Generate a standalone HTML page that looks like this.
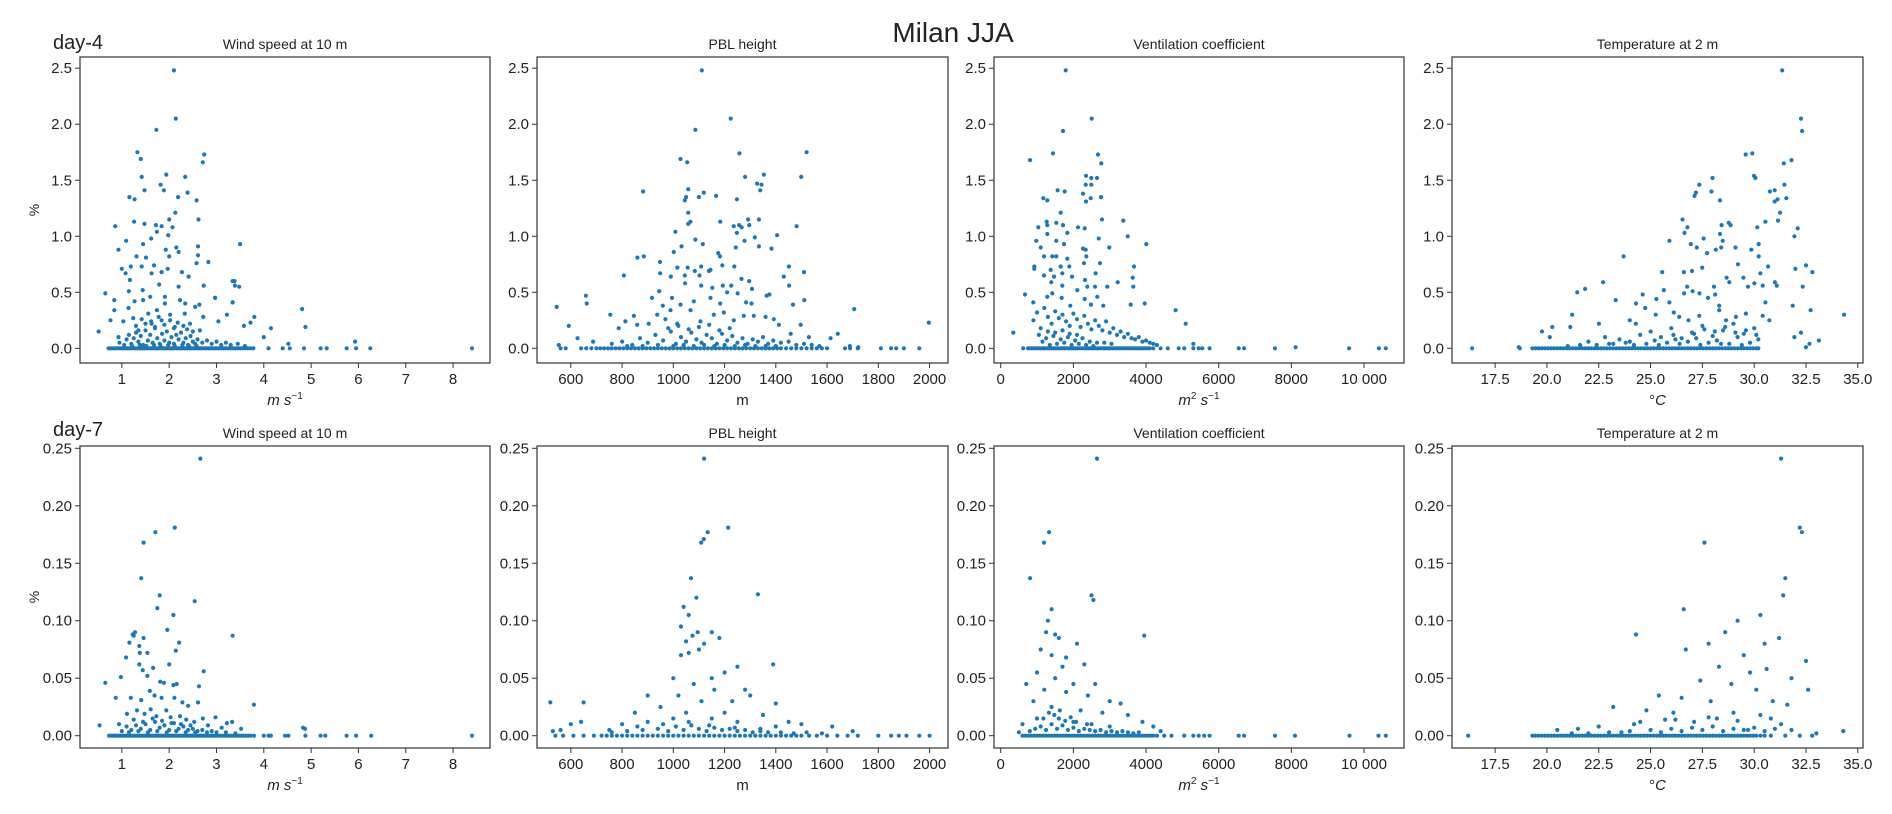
<!DOCTYPE html>
<html><head><meta charset="utf-8"><style>
html,body{margin:0;padding:0;background:#fff;}
svg text{font-family:"Liberation Sans","DejaVu Sans",sans-serif;fill:#222;}
</style></head><body>
<svg id="fig" width="1892" height="809" viewBox="0 0 1892 809" xmlns="http://www.w3.org/2000/svg">
<rect width="1892" height="809" fill="#fff"/>
<text x="953" y="42" font-size="28" text-anchor="middle">Milan JJA</text>
<text x="53" y="49" font-size="20">day-4</text>
<text x="53" y="436" font-size="20">day-7</text>
<text x="0" y="0" font-size="14" text-anchor="middle" transform="translate(39,210) rotate(-90)">%</text>
<text x="0" y="0" font-size="14" text-anchor="middle" transform="translate(39,597) rotate(-90)">%</text>
<g id="plots"></g>
</svg>
<script>
// ---------- day-4 data ----------
const windX4=[2.10,2.14,1.73,1.33,1.40,2.74,2.71,1.42,1.94,2.34,1.82,1.89,1.48,2.19,2.39,2.58,1.16,1.27,2.13,2.0,2.62,1.26,1.48,1.72,1.84,2.07,0.86,1.09,0.93,1.45,1.62,1.74,1.98,2.15,2.61,3.5,1.31,1.51,1.93,2.2,2.0,2.61,1.0,1.19,1.42,1.68,1.84,1.97,2.27,2.58,2.83,1.08,1.17,1.63,2.41,3.34,3.39,0.65,1.15,1.44,1.79,2.2,2.73,0.84,1.27,1.6,1.91,2.34,2.64,2.97,3.34,4.81,0.51,0.76,0.84,4.88,0.93,1.03,1.14,1.24,1.35,1.45,1.56,1.63,1.74,1.84,1.91,2.02,2.12,2.23,2.33,2.44,2.55,2.65,2.72,2.97,3.04,3.22,3.34,3.38,3.48,3.58,3.80,3.72,4.0,4.15,4.52,5.93];
const windY4=[2.48,2.05,1.95,1.75,1.69,1.73,1.66,1.53,1.55,1.53,1.46,1.41,1.41,1.35,1.39,1.32,1.35,1.33,1.21,1.15,1.15,1.13,1.11,1.10,1.09,1.08,1.09,0.96,0.88,0.93,0.98,1.04,1.01,0.90,0.91,0.93,0.82,0.81,0.88,0.86,0.82,0.83,0.71,0.73,0.73,0.74,0.68,0.71,0.68,0.76,0.77,0.67,0.61,0.67,0.64,0.60,0.56,0.49,0.51,0.52,0.57,0.55,0.56,0.43,0.42,0.46,0.46,0.40,0.39,0.45,0.41,0.35,0.15,0.25,0.34,0.19,0.10,0.24,0.36,0.27,0.16,0.43,0.31,0.22,0.34,0.25,0.40,0.30,0.19,0.43,0.31,0.22,0.37,0.16,0.28,0.45,0.24,0.30,0.41,0.60,0.55,0.20,0.28,0.23,0.10,0.18,0.04,0.06,0.02];
const windLowX4=[0.95,1.05,1.1,1.15,1.2,1.25,1.3,1.35,1.4,1.45,1.5,1.55,1.6,1.65,1.7,1.75,1.8,1.85,1.9,1.95,2.0,2.05,2.1,2.15,2.2,2.25,2.3,2.35,2.4,2.45,2.5,2.55,2.6,2.7,2.8,2.9,3.0,3.1,3.2,3.3,3.45,3.6,1.22,1.38,1.52,1.68,1.82,1.98,2.12,2.28,2.42,2.58,1.3,1.5,1.7,1.9,2.1,2.3,2.5,1.42,1.62,1.78,2.02,2.18,2.38];
const windLowY4=[0.05,0.03,0.08,0.12,0.04,0.09,0.14,0.06,0.11,0.03,0.16,0.07,0.12,0.05,0.18,0.09,0.04,0.13,0.07,0.15,0.05,0.10,0.04,0.12,0.08,0.14,0.05,0.09,0.03,0.11,0.06,0.04,0.08,0.05,0.07,0.04,0.06,0.03,0.05,0.03,0.04,0.02,0.02,0.03,0.02,0.03,0.02,0.03,0.02,0.03,0.02,0.02,0.2,0.22,0.19,0.21,0.18,0.2,0.15,0.26,0.24,0.28,0.25,0.23,0.17];
const windZero4=[0.72,0.76,0.8,0.84,0.88,0.92,0.96,1.0,1.04,1.08,1.12,1.16,1.2,1.24,1.28,1.32,1.36,1.4,1.44,1.48,1.52,1.56,1.6,1.64,1.68,1.72,1.76,1.8,1.84,1.88,1.92,1.96,2.0,2.04,2.08,2.12,2.16,2.2,2.24,2.28,2.32,2.36,2.4,2.44,2.48,2.52,2.56,2.6,2.64,2.68,2.72,2.76,2.8,2.84,2.88,2.92,2.96,3.0,3.05,3.1,3.15,3.2,3.25,3.3,3.35,3.4,3.45,3.5,3.55,3.6,3.66,3.72,3.78,4.1,4.4,4.55,4.85,5.2,5.33,5.75,5.95,6.25,8.4];

const pblX4=[1111,1224,1086,1028,1054,1258,1520,1280,1353,1327,1344,1339,1499,882,1058,1050,1045,1100,1119,1167,1248,1058,1058,1067,1183,1292,1334,1236,1257,1267,1248,1008,1086,1115,1278,1318,1296,1405,1481,1032,1002,1244,1334,1383,860,885,1175,1182,807,948,1016,1056,1084,1109,1145,1191,1238,1451,1510,949,990,1045,1102,1139,1431,1046,1109,1152,1193,1226,1266,1296,1307,1452,917,945,959,995,1028,1080,1145,1183,1210,1251,1284,1305,1364,1375,1467,1511,545,659,662,846,754,813,592,626,687,787,859,904,937,969,989,1015,1067,1106,1158,1197,1236,1275,1314,1360,1392,1412,1458,1497,1529,1614,1642,1706,1997,1689,1722,553];
const pblY4=[2.48,2.05,1.95,1.69,1.66,1.74,1.75,1.53,1.55,1.47,1.46,1.41,1.53,1.40,1.42,1.35,1.32,1.35,1.39,1.36,1.33,1.21,1.11,1.13,1.13,1.15,1.15,1.09,1.10,1.08,1.03,1.04,0.97,0.93,0.96,0.99,1.10,1.01,1.09,0.91,0.86,0.90,0.91,0.89,0.81,0.82,0.85,0.82,0.65,0.77,0.72,0.72,0.69,0.73,0.70,0.74,0.73,0.73,0.68,0.67,0.64,0.65,0.65,0.69,0.64,0.58,0.56,0.54,0.56,0.56,0.62,0.60,0.53,0.56,0.45,0.51,0.38,0.45,0.39,0.42,0.45,0.40,0.50,0.49,0.41,0.40,0.47,0.48,0.39,0.43,0.37,0.47,0.40,0.29,0.30,0.24,0.20,0.09,0.06,0.18,0.21,0.22,0.30,0.26,0.34,0.22,0.34,0.24,0.30,0.32,0.25,0.29,0.29,0.28,0.26,0.21,0.13,0.21,0.10,0.09,0.13,0.35,0.23,0.02,0.01,0.03];
const pblLowX4=[760,800,840,870,900,930,960,990,1010,1030,1050,1070,1090,1110,1130,1150,1170,1190,1210,1230,1250,1270,1290,1310,1330,1350,1370,1390,1420,1450,1480,1510,1540,1570,820,880,940,1000,1040,1080,1120,1160,1200,1240,1280,1320,1360,1400,980,1020,1060,1100,1140,1180,1220];
const pblLowY4=[0.04,0.06,0.03,0.09,0.05,0.12,0.07,0.15,0.04,0.10,0.06,0.14,0.08,0.05,0.12,0.09,0.04,0.13,0.07,0.11,0.05,0.09,0.04,0.08,0.06,0.10,0.04,0.07,0.05,0.06,0.03,0.04,0.03,0.02,0.02,0.02,0.03,0.02,0.03,0.02,0.03,0.02,0.03,0.02,0.03,0.02,0.02,0.02,0.18,0.2,0.17,0.19,0.21,0.16,0.18];
const pblZero4=[560,580,640,660,680,700,715,730,745,760,775,790,805,820,835,850,865,880,895,910,925,940,955,970,985,1000,1015,1030,1045,1060,1075,1090,1105,1120,1135,1150,1165,1180,1195,1210,1225,1240,1255,1270,1285,1300,1315,1330,1345,1360,1375,1390,1405,1420,1440,1460,1480,1500,1520,1540,1560,1580,1600,1670,1690,1720,1810,1850,1870,1900,1960];

const ventX4=[1788,2503,1714,806,1439,2678,2769,2347,2494,2650,2338,2494,1567,1760,1173,1283,2265,2476,2347,2760,1650,1265,1283,1531,1714,1035,1834,2127,2311,2788,3375,980,1283,1531,1742,2265,2338,2696,2990,3494,4008,1100,1191,1421,1531,1834,2357,925,925,1375,1650,1889,2292,2613,2733,3669,1191,1467,1696,1962,1393,1696,2320,2384,2595,2935,3219,3632,3650,668,898,1283,1421,1678,1916,2109,2311,2485,2659,2824,3577,3962,4815,5091,347,5302,8118];
const ventY4=[2.48,2.05,1.94,1.68,1.74,1.73,1.65,1.54,1.52,1.52,1.46,1.46,1.41,1.40,1.34,1.32,1.38,1.34,1.31,1.35,1.21,1.13,1.10,1.12,1.10,1.08,1.03,1.08,1.07,1.15,1.14,0.96,1.02,0.96,0.93,0.89,0.88,0.98,0.90,1.00,0.93,0.90,0.82,0.82,0.82,0.80,0.82,0.73,0.71,0.70,0.73,0.73,0.76,0.67,0.76,0.73,0.65,0.64,0.67,0.64,0.59,0.56,0.61,0.55,0.55,0.55,0.59,0.63,0.55,0.48,0.41,0.46,0.49,0.45,0.38,0.52,0.44,0.39,0.46,0.38,0.39,0.40,0.34,0.22,0.14,0.04,0.01];
const ventLowX4=[900,1000,1100,1200,1300,1400,1500,1600,1700,1800,1900,2000,2100,2200,2300,2400,2500,2600,2700,2800,2900,3000,3100,3200,3300,3400,3500,3600,3700,3800,3900,4000,4100,4200,4300,1050,1250,1450,1650,1850,2050,2250,2450,2650,2850,3050,1150,1350,1550,1750,1950,2150,2350,2550,1300,1500,1700,1900,2100];
const ventLowY4=[0.25,0.32,0.18,0.36,0.28,0.22,0.33,0.27,0.30,0.24,0.20,0.31,0.26,0.19,0.29,0.22,0.17,0.25,0.20,0.16,0.24,0.14,0.18,0.12,0.15,0.10,0.13,0.09,0.08,0.10,0.06,0.07,0.05,0.04,0.03,0.12,0.09,0.11,0.08,0.10,0.07,0.09,0.06,0.05,0.05,0.04,0.06,0.03,0.04,0.05,0.03,0.04,0.03,0.02,0.15,0.14,0.16,0.13,0.12];
const ventZero4=[620,750,800,860,920,980,1040,1100,1160,1220,1280,1340,1400,1460,1520,1580,1640,1700,1760,1820,1880,1940,2000,2060,2120,2180,2240,2300,2360,2420,2480,2540,2600,2660,2720,2780,2840,2900,2960,3020,3080,3140,3200,3260,3320,3380,3440,3500,3560,3620,3680,3740,3800,3860,3920,3980,4040,4100,4200,4400,4600,4900,5050,5300,5450,5550,5750,6550,6700,7550,9590,10410,10600];

const tempX4=[31.35,32.26,32.31,29.59,29.91,31.43,31.8,29.99,30.06,27.99,27.35,27.19,27.12,27.94,28.35,30.76,30.99,30.99,31.13,31.46,31.55,31.25,31.15,30.54,26.54,26.64,26.78,28.43,28.77,28.86,28.35,27.56,26.94,27.23,25.91,23.7,27.73,28.15,28.48,28.41,29.1,29.86,30.22,30.15,30.22,31.94,32.1,31.99,32.5,32.81,32.34,32.72,34.34,22.71,21.46,21.84,21.22,19.76,20.26,20.14,21.13,25.56,25.64,26.61,27.0,27.49,26.62,26.77,27.03,27.36,27.77,28.06,28.12,28.31,28.67,28.8,29.22,29.48,29.7,30.01,30.3,30.41,30.67,31.0,31.09,30.54,23.32,24.3,24.62,25.28,25.91,26.12,24.74,24.0,24.29,25.25,26.38,26.83,27.35,28.31,28.64,29.12,29.6,30.41,30.73,31.86,31.94,32.26,32.67,33.12,32.5,18.64,22.51];
const tempY4=[2.48,2.05,1.94,1.73,1.74,1.65,1.68,1.54,1.52,1.52,1.46,1.39,1.36,1.40,1.32,1.40,1.41,1.31,1.33,1.46,1.34,1.21,1.14,1.13,1.15,1.03,1.08,1.10,1.12,1.10,1.02,0.98,0.93,0.90,0.96,0.82,0.85,0.88,0.96,0.90,0.90,0.88,0.93,1.08,0.82,1.00,1.07,0.71,0.74,0.68,0.55,0.34,0.30,0.59,0.50,0.53,0.30,0.15,0.19,0.10,0.19,0.68,0.52,0.68,0.69,0.72,0.49,0.55,0.51,0.49,0.45,0.55,0.48,0.38,0.63,0.59,0.75,0.63,0.55,0.58,0.67,0.56,0.73,0.59,0.56,0.41,0.43,0.40,0.48,0.44,0.41,0.32,0.36,0.25,0.22,0.30,0.28,0.25,0.29,0.34,0.25,0.28,0.31,0.29,0.25,0.38,0.10,0.14,0.04,0.07,0.01,0.01,0.22];
const tempLowX4=[22.0,22.8,23.5,24.5,25.0,25.5,26.0,26.5,27.0,27.5,28.0,28.5,29.0,29.5,30.0,23.0,24.0,25.2,26.2,27.2,28.2,29.2,30.2,25.8,26.8,27.8,28.8,21.0,21.6,22.4,23.2,23.8,24.2,24.8,25.4,26.4,27.4,28.4,29.4,29.8,26.1,27.1,28.1,29.1,27.6,28.6,29.6,30.1];
const tempLowY4=[0.06,0.10,0.08,0.12,0.15,0.10,0.18,0.09,0.14,0.20,0.11,0.16,0.22,0.13,0.18,0.04,0.06,0.07,0.08,0.09,0.07,0.10,0.08,0.05,0.06,0.05,0.04,0.02,0.03,0.03,0.04,0.05,0.03,0.04,0.03,0.04,0.03,0.04,0.03,0.05,0.12,0.13,0.15,0.14,0.17,0.19,0.16,0.12];
const tempZero4=[16.39,18.69,19.3,19.45,19.6,19.75,19.9,20.05,20.2,20.35,20.5,20.65,20.8,20.95,21.1,21.25,21.4,21.55,21.7,21.85,22.0,22.15,22.3,22.45,22.6,22.75,22.9,23.05,23.2,23.35,23.5,23.65,23.8,23.95,24.1,24.25,24.4,24.55,24.7,24.85,25.0,25.15,25.3,25.45,25.6,25.75,25.9,26.05,26.2,26.35,26.5,26.65,26.8,26.95,27.1,27.25,27.4,27.55,27.7,27.85,28.0,28.15,28.3,28.45,28.6,28.75,28.9,29.05,29.2,29.35,29.5,29.65,29.8,29.95,30.1,30.2];

// ---------- day-7 data ----------
const windX7=[2.66,2.12,1.71,1.46,1.41,1.80,2.54,0.65,0.53,0.87,0.98,1.09,1.16,1.23,1.28,1.25,1.37,1.38,1.46,1.54,1.37,1.44,1.54,1.66,1.75,1.81,1.89,1.96,2.0,2.09,2.14,2.21,2.09,2.16,2.63,2.61,2.73,3.34,3.79,1.19,1.41,1.59,1.69,1.84,2.11,2.28,2.40,2.71,2.98,3.22,3.33,3.52,4.83,4.87,0.94,1.11,1.32,1.48,1.61,1.73,1.94,2.03,2.23,2.36,2.53,2.82,3.11];
const windY7=[0.241,0.181,0.177,0.168,0.137,0.122,0.117,0.046,0.009,0.033,0.051,0.068,0.081,0.088,0.090,0.087,0.078,0.072,0.085,0.072,0.062,0.057,0.052,0.059,0.111,0.047,0.046,0.092,0.062,0.105,0.074,0.081,0.044,0.045,0.043,0.029,0.056,0.087,0.027,0.033,0.031,0.039,0.035,0.033,0.033,0.029,0.026,0.015,0.016,0.011,0.012,0.006,0.007,0.006,0.010,0.019,0.022,0.019,0.023,0.017,0.022,0.016,0.017,0.014,0.012,0.009,0.007];
const windLowX7=[1.0,1.1,1.2,1.3,1.4,1.5,1.6,1.7,1.8,1.9,2.0,2.1,2.2,2.3,2.4,2.5,2.6,2.7,2.8,2.9,3.0,3.2,3.4,1.15,1.35,1.55,1.75,1.95,2.15,2.35,2.55,1.25,1.45,1.65,1.85,2.05,2.25,2.45];
const windLowY7=[0.004,0.008,0.005,0.009,0.006,0.010,0.005,0.012,0.007,0.009,0.005,0.011,0.006,0.008,0.005,0.006,0.004,0.005,0.003,0.004,0.003,0.003,0.002,0.003,0.004,0.003,0.004,0.003,0.004,0.003,0.003,0.014,0.012,0.015,0.013,0.011,0.010,0.009];
const windZero7=[0.73,0.77,0.81,0.85,0.89,0.93,0.97,1.01,1.05,1.09,1.13,1.17,1.21,1.25,1.29,1.33,1.37,1.41,1.45,1.49,1.53,1.57,1.61,1.65,1.69,1.73,1.77,1.81,1.85,1.89,1.93,1.97,2.01,2.05,2.09,2.13,2.17,2.21,2.25,2.29,2.33,2.37,2.41,2.45,2.49,2.53,2.57,2.61,2.65,2.69,2.73,2.77,2.81,2.85,2.89,2.93,2.97,3.02,3.07,3.12,3.17,3.22,3.27,3.32,3.37,3.42,3.47,3.52,3.57,3.62,3.67,3.72,3.79,4.0,4.1,4.15,4.45,4.52,4.88,5.2,5.3,5.75,5.95,6.27,8.4];

const pblX7=[1120,1214,1134,1119,1109,1069,1040,1060,1090,1030,1050,1075,1095,1150,1180,1120,1030,1060,1100,1330,1390,1250,1200,1150,1000,1080,1160,1280,900,1020,1110,1230,1300,1400,520,650,640,600,530,560,850,950,1050,1200,1350,1450,1500,1620,1700,800,900,1000,1150,1250,1400,750];
const pblY7=[0.241,0.181,0.177,0.171,0.168,0.137,0.112,0.105,0.120,0.095,0.082,0.087,0.090,0.090,0.085,0.080,0.070,0.072,0.075,0.123,0.062,0.060,0.055,0.050,0.050,0.045,0.040,0.040,0.035,0.035,0.030,0.030,0.035,0.028,0.029,0.029,0.012,0.010,0.004,0.005,0.020,0.025,0.020,0.020,0.018,0.012,0.010,0.008,0.004,0.010,0.012,0.015,0.015,0.012,0.008,0.005];
const pblLowX7=[760,820,880,940,980,1010,1040,1070,1100,1130,1160,1190,1220,1250,1280,1310,1340,1370,1420,1470,1520,1580,860,960,1060,1140,1240,1340];
const pblLowY7=[0.003,0.004,0.005,0.006,0.004,0.008,0.005,0.009,0.006,0.004,0.007,0.005,0.006,0.004,0.005,0.003,0.004,0.003,0.003,0.002,0.003,0.002,0.008,0.010,0.012,0.009,0.007,0.006];
const pblZero7=[540,570,610,650,690,720,740,760,780,800,820,840,860,880,900,920,940,960,980,1000,1020,1040,1060,1080,1100,1120,1140,1160,1180,1200,1220,1240,1260,1280,1300,1320,1340,1360,1380,1400,1420,1440,1460,1480,1500,1530,1560,1600,1640,1680,1720,1800,1850,1880,1910,1960,2000];

const ventX7=[2650,1333,1190,809,2500,2550,1400,1300,1250,1500,1600,2100,1100,1400,1800,2300,1700,3950,1000,1500,2000,2600,1200,1800,2400,3000,3300,700,900,1400,2200,2800,3500,3900,4200,600,1000,1600,2000,2500,3000,500,4400];
const ventY7=[0.241,0.177,0.168,0.137,0.122,0.118,0.110,0.100,0.090,0.088,0.085,0.080,0.075,0.070,0.068,0.062,0.060,0.087,0.055,0.050,0.045,0.045,0.040,0.038,0.035,0.030,0.028,0.045,0.030,0.025,0.022,0.020,0.018,0.012,0.008,0.010,0.015,0.015,0.012,0.010,0.008,0.003,0.004];
const ventLowX7=[800,950,1100,1250,1400,1550,1700,1850,2000,2150,2300,2450,2600,2750,2900,3050,3200,3350,3500,3650,3800,1175,1475,1775,2075,2375,1325,1625,1925];
const ventLowY7=[0.004,0.006,0.008,0.005,0.010,0.006,0.009,0.005,0.007,0.004,0.006,0.005,0.004,0.005,0.003,0.004,0.003,0.004,0.003,0.002,0.003,0.015,0.018,0.013,0.012,0.010,0.020,0.022,0.016];
const ventZero7=[600,680,760,840,920,1000,1080,1160,1240,1320,1400,1480,1560,1640,1720,1800,1880,1960,2040,2120,2200,2280,2360,2440,2520,2600,2680,2760,2840,2920,3000,3080,3160,3240,3320,3400,3480,3560,3640,3720,3800,3880,3960,4040,4120,4200,4300,4500,4700,5050,5300,5450,5600,5750,6550,6700,7550,8100,9600,10400,10600];

const tempX7=[31.3,32.2,32.3,27.6,31.5,31.4,26.6,30.3,29.2,28.6,24.3,31.2,27.8,30.5,26.7,29.5,32.5,28.3,30.6,29.8,31.8,27.4,28.9,30.1,32.6,25.4,26.5,27.9,30.9,31.6,23.2,24.8,26.1,29.0,30.3,28.2,25.7,27.1,24.2,31.3,22.5,21.5,29.7,20.5,34.3,33.0];
const tempY7=[0.241,0.181,0.177,0.168,0.137,0.122,0.110,0.105,0.100,0.090,0.088,0.085,0.080,0.080,0.075,0.070,0.065,0.060,0.058,0.055,0.050,0.048,0.045,0.040,0.040,0.035,0.033,0.030,0.030,0.027,0.025,0.022,0.020,0.020,0.018,0.015,0.014,0.012,0.010,0.010,0.008,0.006,0.005,0.005,0.004,0.002];
const tempLowX7=[22.0,23.0,24.0,25.0,25.5,26.0,26.5,27.0,27.5,28.0,28.5,29.0,29.5,30.0,30.5,31.0,31.8,24.5,26.2,27.8,29.2,30.8,21.2,23.6];
const tempLowY7=[0.002,0.003,0.004,0.005,0.003,0.006,0.004,0.007,0.005,0.008,0.004,0.006,0.005,0.007,0.004,0.006,0.005,0.012,0.014,0.016,0.013,0.015,0.002,0.003];
const tempZero7=[16.2,19.3,19.45,19.6,19.75,19.9,20.05,20.2,20.35,20.5,20.65,20.8,20.95,21.1,21.25,21.4,21.55,21.7,21.85,22.0,22.15,22.3,22.45,22.6,22.75,22.9,23.05,23.2,23.35,23.5,23.65,23.8,23.95,24.1,24.25,24.4,24.55,24.7,24.85,25.0,25.15,25.3,25.45,25.6,25.75,25.9,26.05,26.2,26.35,26.5,26.65,26.8,26.95,27.1,27.25,27.4,27.55,27.7,27.85,28.0,28.15,28.3,28.45,28.6,28.75,28.9,29.05,29.2,29.35,29.5,29.65,29.8,29.95,30.1,30.3,30.5,30.8,31.5,32.2,32.8];

// ---------- tick labels ----------
const windTicks=[1,2,3,4,5,6,7,8];
const pblTicks=[600,800,1000,1200,1400,1600,1800,2000];
const ventTicks=[0,2000,4000,6000,8000,10000];
const ventTickLabels=["0","2000","4000","6000","8000","10 000"];
const tempTicks=[17.5,20,22.5,25,27.5,30,32.5,35];
const tempTickLabels=["17.5","20.0","22.5","25.0","27.5","30.0","32.5","35.0"];
const topYTicks=[0,0.5,1,1.5,2,2.5];
const topYLabels=["0.0","0.5","1.0","1.5","2.0","2.5"];
const botYTicks=[0,0.05,0.1,0.15,0.2,0.25];
const botYLabels=["0.00","0.05","0.10","0.15","0.20","0.25"];

const NS="http://www.w3.org/2000/svg";
const root=document.getElementById('plots');
function mk(tag,attrs,parent){const e=document.createElementNS(NS,tag);for(const k in attrs)e.setAttribute(k,attrs[k]);(parent||root).appendChild(e);return e;}

const cols=[
 {left:80,right:490,xd:[0.116,8.78],ticks:windTicks,labels:windTicks.map(String),title:"Wind speed at 10 m",xl:'<tspan font-style="italic">m s</tspan><tspan font-size="10" dy="-6">−1</tspan>',key:"wind"},
 {left:537,right:948,xd:[468,2072],ticks:pblTicks,labels:pblTicks.map(String),title:"PBL height",xl:'m',key:"pbl"},
 {left:994,right:1404,xd:[-185,11101],ticks:ventTicks,labels:ventTickLabels,title:"Ventilation coefficient",xl:'<tspan font-style="italic">m</tspan><tspan font-size="10" dy="-6">2</tspan><tspan font-style="italic" dy="6"> s</tspan><tspan font-size="10" dy="-6">−1</tspan>',key:"vent"},
 {left:1452,right:1863,xd:[15.42,35.25],ticks:tempTicks,labels:tempTickLabels,title:"Temperature at 2 m",xl:'°<tspan font-style="italic">C</tspan>',key:"temp"}
];
const rows=[
 {top:57,bottom:363,yd:[-0.131,2.6],yt:topYTicks,yl:topYLabels,day:"4",
  data:{wind:[windX4,windY4,windZero4,windLowX4,windLowY4],pbl:[pblX4,pblY4,pblZero4,pblLowX4,pblLowY4],vent:[ventX4,ventY4,ventZero4,ventLowX4,ventLowY4],temp:[tempX4,tempY4,tempZero4,tempLowX4,tempLowY4]}},
 {top:446,bottom:748,yd:[-0.0107,0.252],yt:botYTicks,yl:botYLabels,day:"7",
  data:{wind:[windX7,windY7,windZero7,windLowX7,windLowY7],pbl:[pblX7,pblY7,pblZero7,pblLowX7,pblLowY7],vent:[ventX7,ventY7,ventZero7,ventLowX7,ventLowY7],temp:[tempX7,tempY7,tempZero7,tempLowX7,tempLowY7]}}
];

rows.forEach(r=>{
 cols.forEach(c=>{
  const g=mk('g',{});
  
  
  const sx=v=>c.left+(v-c.xd[0])/(c.xd[1]-c.xd[0])*(c.right-c.left);
  const sy=v=>r.bottom-(v-r.yd[0])/(r.yd[1]-r.yd[0])*(r.bottom-r.top);
  const [xs,ys,zs,lx,ly]=r.data[c.key];
  const pts=mk('g',{fill:'#1f77b4'},g);
  
  
  const dot=(x,y)=>{if(x===undefined||y===undefined)return;
   const ci=mk('circle',{cx:sx(x).toFixed(1),cy:sy(y).toFixed(1),r:2.1},pts);
   
   };
  zs.forEach(x=>dot(x,0));
  lx.forEach((x,i)=>dot(x,ly[i]));
  xs.forEach((x,i)=>dot(x,ys[i]));
  const fr=mk('rect',{x:c.left,y:r.top,width:c.right-c.left,height:r.bottom-r.top,fill:'none',stroke:'#333','stroke-width':1.2},g);
  
  
  c.ticks.forEach((t,i)=>{
   const x=sx(t);
   mk('line',{x1:x,x2:x,y1:r.bottom,y2:r.bottom+5,stroke:'#333'},g);
   const tl=mk('text',{x:x,y:r.bottom+21,'font-size':15,'text-anchor':'middle'},g);
   tl.textContent=c.labels[i];
   
   
  });
  r.yt.forEach((t,i)=>{
   const y=sy(t);
   mk('line',{x1:c.left-5,x2:c.left,y1:y,y2:y,stroke:'#333'},g);
   const tl=mk('text',{x:c.left-8,y:y+5,'font-size':15,'text-anchor':'end'},g);
   tl.textContent=r.yl[i];
   
   
  });
  const tt=mk('text',{x:(c.left+c.right)/2,y:r.top-8,'font-size':14,'text-anchor':'middle'},g);
  tt.textContent=c.title;
  
  
  const xl=mk('text',{x:(c.left+c.right)/2,y:r.bottom+42,'font-size':15,'text-anchor':'middle'},g);
  xl.innerHTML=c.xl;
  
  
 });
});
</script>
</body></html>
